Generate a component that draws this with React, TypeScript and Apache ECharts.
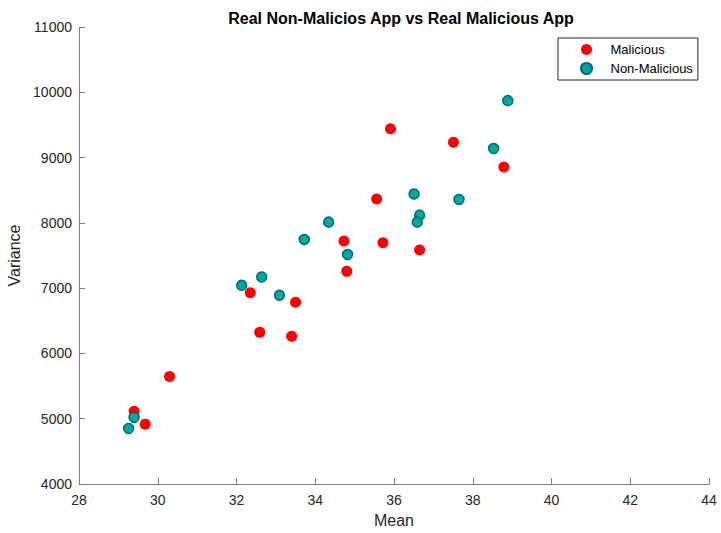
import React, { useEffect, useRef } from "react";
import * as echarts from "echarts";

const malicious: [number, number][] = [
  [29.40, 5116], [29.68, 4917], [30.30, 5645], [32.35, 6930], [32.59, 6324],
  [33.40, 6263], [33.50, 6783], [34.80, 7257], [34.73, 7722], [35.72, 7694],
  [36.65, 7583], [35.56, 8367], [35.91, 9443], [37.51, 9234], [38.79, 8856],
];
const nonMalicious: [number, number][] = [
  [29.26, 4850], [29.40, 5019], [32.13, 7043], [32.64, 7170], [33.09, 6890],
  [34.82, 7514], [33.72, 7746], [34.34, 8011], [36.51, 8443], [36.65, 8118],
  [36.59, 8011], [37.65, 8358], [38.53, 9138], [38.89, 9872],
];
const xRange = [28, 44];
const yRange = [4000, 11000];

const FONT = "Arial, 'Liberation Sans', sans-serif";

export default function App() {
  const ref = useRef<HTMLDivElement>(null);
  useEffect(() => {
    if (!ref.current) return;
    const chart = echarts.init(ref.current, undefined, { renderer: "svg" });
    const axisCommon = {
      axisLine: { show: true, lineStyle: { color: "#7f7f7f", width: 1 } },
      axisTick: { show: true, inside: true, length: 6, lineStyle: { color: "#7f7f7f" } },
      splitLine: { show: false },
      axisLabel: { color: "#262626", fontSize: 14, fontFamily: FONT, formatter: (v: number) => String(v) },
      nameTextStyle: { color: "#262626", fontSize: 16, fontFamily: FONT },
      nameLocation: "middle" as const,
    };
    chart.setOption({
      animation: false,
      backgroundColor: "#ffffff",
      title: {
        text: "Real Non-Malicios App vs Real Malicious App",
        left: 396,
        textAlign: "center",
        top: 5,
        textStyle: { fontSize: 16, fontWeight: "bold", color: "#000", fontFamily: FONT },
      },
      grid: { left: 79, right: 12, top: 27, bottom: 49, containLabel: false, outerBoundsMode: "none" },
      xAxis: {
        type: "value",
        min: xRange[0],
        max: xRange[1],
        interval: 2,
        name: "Mean",
        nameGap: 28,
        ...axisCommon,
        axisLabel: { ...axisCommon.axisLabel, margin: 9 },
      },
      yAxis: {
        type: "value",
        min: yRange[0],
        max: yRange[1],
        interval: 1000,
        name: "Variance",
        nameGap: 54,
        ...axisCommon,
        axisLabel: { ...axisCommon.axisLabel, margin: 7 },
      },
      legend: {
        orient: "vertical",
        left: 558,
        top: 38,
        itemWidth: 38,
        itemHeight: 11,
        itemGap: 6,
        padding: [5, 5, 5, 22],
        borderColor: "#262626",
        borderWidth: 1,
        textStyle: { fontSize: 13, color: "#000", fontFamily: FONT },
        data: [
          { name: "Malicious", icon: "circle" },
          { name: "Non-Malicious", icon: "circle" },
        ],
      },
      series: [
        {
          name: "Malicious",
          type: "scatter",
          data: malicious,
          symbolSize: 11,
          itemStyle: { color: "#ff0000", opacity: 1 },
        },
        {
          name: "Non-Malicious",
          type: "scatter",
          data: nonMalicious,
          symbolSize: 10,
          itemStyle: { color: "#00a5a5", borderColor: "#006d6d", borderWidth: 1.5, opacity: 1 },
        },
      ],
    });
    return () => chart.dispose();
  }, []);
  return <div ref={ref} style={{ width: 721, height: 533, position: "absolute", left: 0, top: 0 }} />;
}
